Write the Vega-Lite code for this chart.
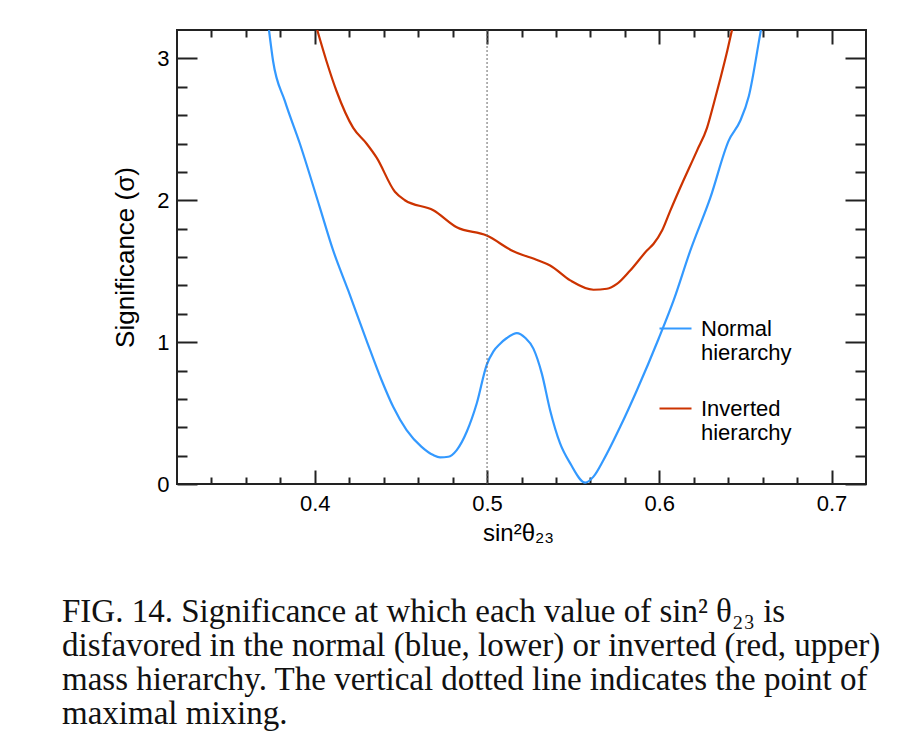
{
  "$schema": "https://vega.github.io/schema/vega-lite/v6.json",
  "width": 689,
  "height": 454,
  "autosize": "none",
  "padding": {"left": 177, "top": 30, "right": 56, "bottom": 261},
  "background": "#ffffff",
  "config": {
    "view": {"stroke": "#222222", "strokeWidth": 2},
    "axis": {
      "domain": false,
      "grid": false,
      "tickColor": "#222222",
      "tickWidth": 2,
      "labelFont": "Liberation Sans",
      "labelFontSize": 22,
      "labelColor": "#000000",
      "titleFont": "Liberation Sans",
      "titleFontWeight": "normal",
      "titleColor": "#000000"
    }
  },
  "title": {
    "text": [
      "FIG. 14.  Significance at which each value of sin² θ₂₃ is",
      "disfavored in the normal (blue, lower) or inverted (red, upper)",
      "mass hierarchy. The vertical dotted line indicates the point of",
      "maximal mixing."
    ],
    "orient": "bottom",
    "anchor": "start",
    "frame": "group",
    "dx": -115,
    "offset": 51,
    "font": "Liberation Serif",
    "fontSize": 33,
    "fontWeight": "normal",
    "color": "#111111",
    "lineHeight": 34
  },
  "datasets": {
    "curves": [
      {"x": 0.3734, "y": 3.2, "h": "Normal hierarchy"},
      {"x": 0.3758, "y": 2.98, "h": "Normal hierarchy"},
      {"x": 0.3826, "y": 2.70, "h": "Normal hierarchy"},
      {"x": 0.3913, "y": 2.40, "h": "Normal hierarchy"},
      {"x": 0.4029, "y": 1.95, "h": "Normal hierarchy"},
      {"x": 0.4107, "y": 1.645, "h": "Normal hierarchy"},
      {"x": 0.4194, "y": 1.364, "h": "Normal hierarchy"},
      {"x": 0.430, "y": 1.013, "h": "Normal hierarchy"},
      {"x": 0.4388, "y": 0.731, "h": "Normal hierarchy"},
      {"x": 0.4455, "y": 0.544, "h": "Normal hierarchy"},
      {"x": 0.4533, "y": 0.38, "h": "Normal hierarchy"},
      {"x": 0.462, "y": 0.262, "h": "Normal hierarchy"},
      {"x": 0.4688, "y": 0.204, "h": "Normal hierarchy"},
      {"x": 0.4727, "y": 0.188, "h": "Normal hierarchy"},
      {"x": 0.4775, "y": 0.192, "h": "Normal hierarchy"},
      {"x": 0.4824, "y": 0.239, "h": "Normal hierarchy"},
      {"x": 0.4882, "y": 0.368, "h": "Normal hierarchy"},
      {"x": 0.494, "y": 0.567, "h": "Normal hierarchy"},
      {"x": 0.4998, "y": 0.84, "h": "Normal hierarchy"},
      {"x": 0.5037, "y": 0.935, "h": "Normal hierarchy"},
      {"x": 0.5076, "y": 0.989, "h": "Normal hierarchy"},
      {"x": 0.5115, "y": 1.029, "h": "Normal hierarchy"},
      {"x": 0.5173, "y": 1.064, "h": "Normal hierarchy"},
      {"x": 0.5221, "y": 1.031, "h": "Normal hierarchy"},
      {"x": 0.5269, "y": 0.954, "h": "Normal hierarchy"},
      {"x": 0.5318, "y": 0.778, "h": "Normal hierarchy"},
      {"x": 0.5366, "y": 0.52, "h": "Normal hierarchy"},
      {"x": 0.5424, "y": 0.286, "h": "Normal hierarchy"},
      {"x": 0.5483, "y": 0.145, "h": "Normal hierarchy"},
      {"x": 0.557, "y": 0.01, "h": "Normal hierarchy"},
      {"x": 0.5618, "y": 0.052, "h": "Normal hierarchy"},
      {"x": 0.5676, "y": 0.169, "h": "Normal hierarchy"},
      {"x": 0.5773, "y": 0.403, "h": "Normal hierarchy"},
      {"x": 0.587, "y": 0.661, "h": "Normal hierarchy"},
      {"x": 0.5996, "y": 1.024, "h": "Normal hierarchy"},
      {"x": 0.6083, "y": 1.294, "h": "Normal hierarchy"},
      {"x": 0.618, "y": 1.645, "h": "Normal hierarchy"},
      {"x": 0.6297, "y": 2.02, "h": "Normal hierarchy"},
      {"x": 0.6403, "y": 2.42, "h": "Normal hierarchy"},
      {"x": 0.647, "y": 2.56, "h": "Normal hierarchy"},
      {"x": 0.652, "y": 2.735, "h": "Normal hierarchy"},
      {"x": 0.6587, "y": 3.18, "h": "Normal hierarchy"},
      {"x": 0.659, "y": 3.2, "h": "Normal hierarchy"},
      {"x": 0.4014, "y": 3.2, "h": "Inverted hierarchy"},
      {"x": 0.4068, "y": 2.98, "h": "Inverted hierarchy"},
      {"x": 0.4126, "y": 2.77, "h": "Inverted hierarchy"},
      {"x": 0.4223, "y": 2.51, "h": "Inverted hierarchy"},
      {"x": 0.430, "y": 2.40, "h": "Inverted hierarchy"},
      {"x": 0.4359, "y": 2.30, "h": "Inverted hierarchy"},
      {"x": 0.4465, "y": 2.06, "h": "Inverted hierarchy"},
      {"x": 0.4523, "y": 2.0, "h": "Inverted hierarchy"},
      {"x": 0.4688, "y": 1.93, "h": "Inverted hierarchy"},
      {"x": 0.4824, "y": 1.81, "h": "Inverted hierarchy"},
      {"x": 0.4998, "y": 1.751, "h": "Inverted hierarchy"},
      {"x": 0.5153, "y": 1.64, "h": "Inverted hierarchy"},
      {"x": 0.5298, "y": 1.575, "h": "Inverted hierarchy"},
      {"x": 0.5366, "y": 1.54, "h": "Inverted hierarchy"},
      {"x": 0.5483, "y": 1.435, "h": "Inverted hierarchy"},
      {"x": 0.5618, "y": 1.369, "h": "Inverted hierarchy"},
      {"x": 0.5696, "y": 1.376, "h": "Inverted hierarchy"},
      {"x": 0.5754, "y": 1.41, "h": "Inverted hierarchy"},
      {"x": 0.5831, "y": 1.505, "h": "Inverted hierarchy"},
      {"x": 0.5928, "y": 1.645, "h": "Inverted hierarchy"},
      {"x": 0.5967, "y": 1.693, "h": "Inverted hierarchy"},
      {"x": 0.6016, "y": 1.786, "h": "Inverted hierarchy"},
      {"x": 0.6064, "y": 1.927, "h": "Inverted hierarchy"},
      {"x": 0.6122, "y": 2.09, "h": "Inverted hierarchy"},
      {"x": 0.6219, "y": 2.35, "h": "Inverted hierarchy"},
      {"x": 0.6277, "y": 2.51, "h": "Inverted hierarchy"},
      {"x": 0.6316, "y": 2.68, "h": "Inverted hierarchy"},
      {"x": 0.6355, "y": 2.86, "h": "Inverted hierarchy"},
      {"x": 0.6394, "y": 3.05, "h": "Inverted hierarchy"},
      {"x": 0.6422, "y": 3.2, "h": "Inverted hierarchy"}
    ],
    "mixing": [{"x": 0.5, "y": 0, "y2": 3.2}]
  },
  "layer": [
    {
      "data": {"name": "curves"},
      "mark": {"type": "line", "strokeWidth": 2.2, "clip": true, "interpolate": "monotone"},
      "encoding": {
        "x": {
          "field": "x", "type": "quantitative",
          "scale": {"domain": [0.32, 0.72], "nice": false, "zero": false},
          "axis": {
            "orient": "bottom",
            "values": [0.34,0.36,0.38,0.4,0.42,0.44,0.46,0.48,0.5,0.52,0.54,0.56,0.58,0.6,0.62,0.64,0.66,0.68,0.7],
            "tickSize": {"condition": {"test": "abs(datum.value*10 - round(datum.value*10)) < 0.001", "value": -14}, "value": -7},
            "labelExpr": "abs(datum.value*10 - round(datum.value*10)) < 0.001 ? format(datum.value, '.1f') : ''",
            "labelPadding": 23,
            "labelFlush": false,
            "labelOverlap": false,
            "title": "sin²θ₂₃",
            "titleFontSize": 24,
            "titleX": 341,
            "titleY": 56,
            "titleAlign": "center",
            "titleBaseline": "alphabetic"
          }
        },
        "y": {
          "field": "y", "type": "quantitative",
          "scale": {"domain": [0, 3.2], "nice": false},
          "axis": {
            "orient": "left",
            "values": [0,0.2,0.4,0.6,0.8,1,1.2,1.4,1.6,1.8,2,2.2,2.4,2.6,2.8,3],
            "tickSize": {"condition": {"test": "abs(datum.value - round(datum.value)) < 0.001", "value": -20}, "value": -10},
            "labelExpr": "abs(datum.value - round(datum.value)) < 0.001 ? format(datum.value, 'd') : ''",
            "labelPadding": 28,
            "labelFlush": false,
            "labelOverlap": false,
            "labelBaseline": "middle",
            "title": "Significance (σ)",
            "titleFontSize": 26,
            "titleX": -52,
            "titleY": 227,
            "titleAngle": -90,
            "titleAlign": "center",
            "titleBaseline": "middle"
          }
        },
        "color": {
          "field": "h", "type": "nominal",
          "scale": {"domain": ["Normal hierarchy", "Inverted hierarchy"], "range": ["#3399ff", "#cc3300"]},
          "legend": {
            "title": null,
            "orient": "none",
            "legendX": 481,
            "legendY": 281,
            "symbolType": "stroke",
            "symbolSize": 1024,
            "symbolStrokeWidth": 2.2,
            "labelFont": "Liberation Sans",
            "labelFontSize": 22,
            "labelColor": "#000000",
            "labelOffset": 8,
            "labelExpr": "split(datum.label, ' ')",
            "rowPadding": 27,
            "labelLimit": 300
          }
        }
      }
    },
    {
      "data": {"name": "mixing"},
      "mark": {"type": "rule", "color": "#666666", "strokeWidth": 1, "strokeDash": [2, 2]},
      "encoding": {
        "x": {
          "field": "x", "type": "quantitative",
          "axis": {
            "orient": "top",
            "values": [0.34,0.36,0.38,0.4,0.42,0.44,0.46,0.48,0.5,0.52,0.54,0.56,0.58,0.6,0.62,0.64,0.66,0.68,0.7],
            "tickSize": {"condition": {"test": "abs(datum.value*10 - round(datum.value*10)) < 0.001", "value": -14}, "value": -7},
            "labels": false,
            "title": null
          }
        },
        "y": {
          "field": "y", "type": "quantitative",
          "axis": {
            "orient": "right",
            "values": [0,0.2,0.4,0.6,0.8,1,1.2,1.4,1.6,1.8,2,2.2,2.4,2.6,2.8,3],
            "tickSize": {"condition": {"test": "abs(datum.value - round(datum.value)) < 0.001", "value": -21}, "value": -11},
            "labels": false,
            "title": null
          }
        },
        "y2": {"field": "y2"}
      }
    }
  ],
  "resolve": {"axis": {"x": "independent", "y": "independent"}}
}
